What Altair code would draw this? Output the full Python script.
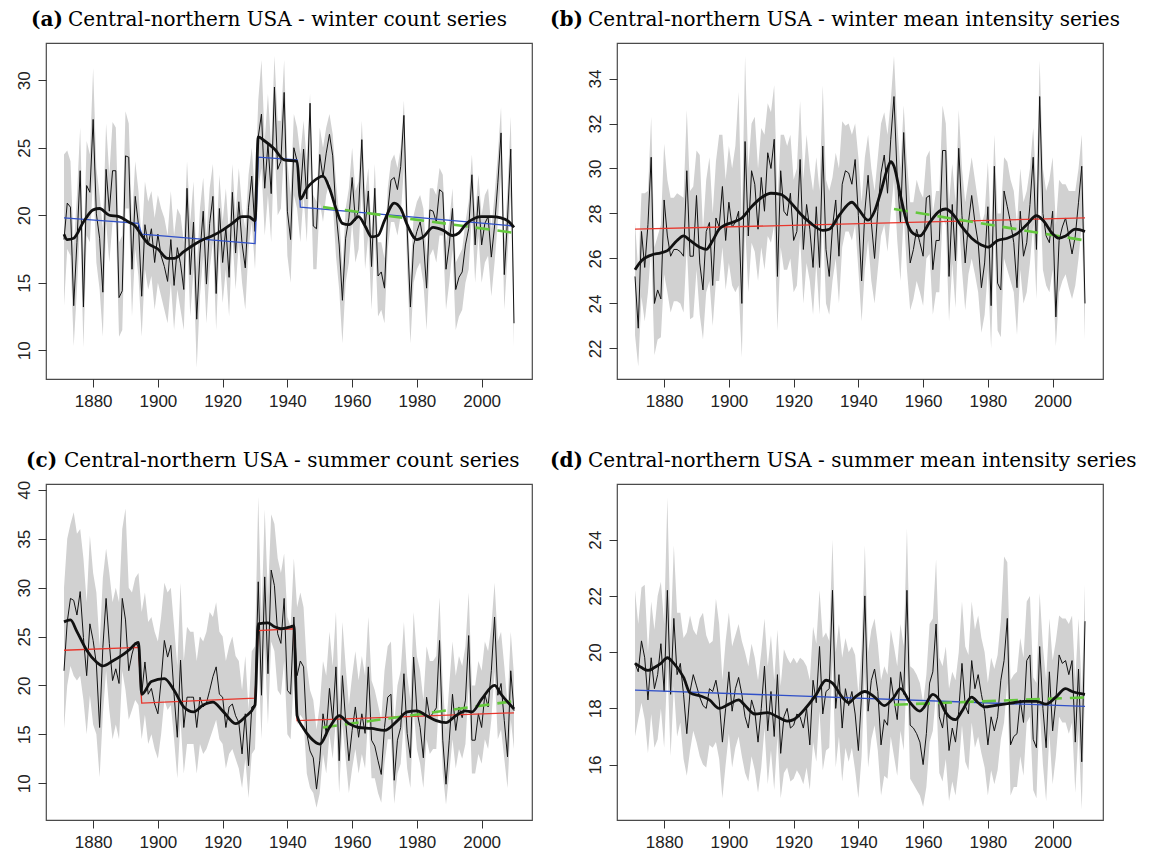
import altair as alt
import pandas as pd

YEARS = list(range(1871, 2011))
X_DOMAIN = [1865.44, 2015.56]
X_TICKS = [1880, 1900, 1920, 1940, 1960, 1980, 2000]

# ---------------- (a) winter count ----------------
a_vals = [
    18.2, 20.9, 20.6, 13.3, 18.0, 23.3, 13.2, 22.2, 21.7, 27.1,
    20.1, 18.3, 14.3, 23.4, 20.3, 23.3, 23.3, 13.9, 14.4, 24.4,
    24.3, 16.0, 21.4, 19.3, 14.0, 19.3, 17.8, 19.0, 16.5, 18.6,
    17.0, 16.2, 15.1, 18.2, 14.8, 17.6, 16.4, 14.5, 22.0, 15.6,
    19.5, 12.3, 17.2, 20.3, 14.9, 19.4, 21.4, 14.2, 20.5, 16.5,
    19.1, 15.4, 21.7, 17.2, 21.0, 17.9, 16.1, 20.6, 22.9, 18.8,
    25.8, 27.5, 22.0, 25.3, 21.6, 29.5, 23.4, 24.0, 29.1, 20.3,
    18.2, 25.0, 24.0, 21.5, 24.9, 21.2, 28.3, 19.2, 19.0, 24.5,
    22.8, 24.6, 26.0, 24.4, 20.3, 17.8, 13.7, 18.3, 19.8, 22.8,
    19.6, 20.4, 25.6, 19.1, 21.8, 16.2, 22.0, 15.5, 15.8, 14.6,
    20.3, 22.6, 22.8, 21.9, 23.6, 27.4, 19.0, 13.2, 17.8, 18.8,
    19.5, 18.1, 14.6, 20.4, 20.3, 19.5, 21.9, 21.7, 16.0, 17.8,
    20.5, 14.5, 15.4, 15.8, 17.8, 19.0, 23.0, 17.8, 21.4, 17.8,
    19.4, 19.9, 16.9, 19.2, 22.4, 26.1, 15.6, 19.7, 24.9, 12.0,
]
a_hi = [
    24.5, 24.8, 24.0, 17.5, 21.5, 26.5, 17.0, 25.5, 24.5, 30.9,
    23.5, 21.5, 19.0, 26.8, 23.0, 26.9, 26.5, 18.0, 18.5, 27.7,
    26.8, 19.5, 24.0, 21.8, 18.0, 22.5, 21.0, 21.8, 19.8, 21.5,
    20.5, 19.8, 18.5, 21.8, 18.5, 20.5, 20.0, 18.0, 24.0, 19.5,
    22.5, 16.0, 20.5, 22.8, 18.5, 22.0, 23.8, 17.8, 23.0, 19.5,
    22.0, 18.5, 23.8, 20.0, 23.5, 20.5, 19.0, 23.0, 25.0, 21.5,
    28.5, 31.5, 25.5, 29.0, 25.0, 31.8, 27.0, 27.0, 31.5, 24.0,
    21.5, 27.5, 26.5, 24.5, 27.0, 24.0, 29.0, 21.5, 21.0, 26.5,
    25.0, 26.5, 27.5, 26.0, 22.5, 20.0, 16.0, 20.5, 22.0, 25.0,
    21.8, 22.5, 27.0, 21.5, 23.5, 18.5, 23.8, 18.0, 18.0, 16.8,
    22.0, 24.0, 24.5, 23.5, 25.0, 28.5, 21.0, 15.5, 20.0, 21.0,
    21.5, 20.5, 17.0, 22.0, 22.0, 21.5, 23.5, 23.0, 18.0, 19.5,
    22.0, 16.5, 17.0, 17.5, 19.5, 21.0, 24.5, 20.0, 23.0, 20.0,
    21.5, 22.0, 19.0, 21.5, 24.5, 28.0, 18.0, 22.0, 27.3, 14.5,
]
a_lo = [
    13.3, 17.5, 17.0, 10.3, 14.5, 19.5, 10.2, 18.5, 18.0, 23.0,
    16.5, 14.5, 11.0, 19.5, 16.5, 19.5, 19.5, 11.0, 11.5, 20.5,
    20.5, 12.5, 17.5, 15.5, 11.0, 16.0, 14.5, 15.5, 13.0, 15.0,
    14.0, 13.0, 12.0, 15.0, 11.5, 14.5, 13.0, 11.5, 18.5, 12.5,
    16.0, 8.7, 14.0, 17.0, 12.0, 16.0, 18.0, 11.5, 17.5, 13.5,
    16.0, 12.5, 18.5, 14.5, 18.0, 15.0, 13.0, 17.5, 19.5, 16.0,
    22.0, 23.5, 18.5, 21.5, 18.0, 25.5, 20.0, 20.5, 25.0, 17.0,
    15.0, 21.5, 20.5, 18.0, 21.5, 18.0, 24.5, 16.0, 16.0, 21.0,
    19.5, 21.5, 22.5, 21.0, 17.0, 14.5, 10.5, 15.0, 16.5, 19.5,
    16.5, 17.5, 22.0, 16.0, 18.5, 13.0, 18.5, 12.5, 13.0, 12.0,
    17.5, 19.5, 19.5, 18.5, 20.0, 23.5, 16.0, 10.5, 15.0, 16.0,
    16.5, 15.0, 11.5, 17.0, 17.5, 16.5, 18.5, 18.5, 13.0, 15.0,
    17.5, 11.5, 12.5, 13.0, 15.0, 16.0, 20.0, 15.0, 18.5, 15.0,
    16.5, 17.0, 14.0, 16.5, 19.5, 23.0, 13.0, 17.0, 21.5, 10.3,
]
a_smooth_years = [1871, 1872, 1874, 1877, 1880, 1882, 1885, 1888, 1891, 1893,
                  1895, 1897, 1900, 1903, 1905, 1908, 1911, 1914, 1917, 1920,
                  1923, 1926, 1928, 1930, 1931, 1933, 1936, 1939, 1943, 1944,
                  1946, 1948, 1951, 1953, 1955, 1957, 1959, 1962, 1964, 1966,
                  1968, 1970, 1973, 1975, 1977, 1980, 1982, 1985, 1988, 1991,
                  1993, 1995, 1998, 2000, 2003, 2006, 2008, 2010]
a_smooth_vals = [18.6, 18.2, 18.3, 19.5, 20.4, 20.5, 20.0, 19.9, 19.5, 19.2,
                 18.5, 17.9, 17.5, 16.8, 16.8, 17.3, 17.8, 18.2, 18.5, 18.9,
                 19.4, 19.9, 19.9, 19.6, 25.8, 25.5, 24.9, 24.1, 24.0, 21.2,
                 22.0, 22.5, 22.9, 22.0, 20.5, 19.4, 19.3, 19.9, 19.2, 18.4,
                 18.5, 19.6, 20.9, 20.5, 19.3, 18.2, 18.4, 19.1, 18.9, 18.5,
                 18.7, 19.3, 19.8, 19.9, 19.9, 19.8, 19.6, 19.1]
a_trend_years = [1871, 1894, 1895, 1930, 1931, 1943, 1944, 2010]
a_trend_vals = [19.8, 19.4, 18.6, 17.9, 24.3, 24.1, 20.6, 19.2]
a_recent_years = [1951, 2010]
a_recent_vals = [20.6, 18.7]

# ---------------- (b) winter mean intensity ----------------
b_vals = [
    25.2, 22.9, 27.2, 25.6, 27.5, 30.5, 24.0, 24.6, 24.2, 28.6,
    27.0, 26.1, 26.4, 26.4, 26.3, 26.1, 29.9, 26.1, 26.1, 28.8,
    25.8, 24.6, 27.2, 27.6, 24.8, 27.8, 27.4, 29.2, 26.8, 28.5,
    27.4, 27.6, 28.1, 24.0, 31.2, 27.0, 29.9, 29.3, 27.3, 29.6,
    28.1, 30.7, 30.0, 31.3, 25.2, 29.9, 28.1, 27.9, 28.9, 26.8,
    27.2, 30.4, 26.4, 28.4, 27.3, 25.6, 28.3, 25.6, 31.0, 26.4,
    25.2, 27.4, 28.6, 26.1, 29.3, 29.9, 29.8, 29.3, 30.4, 27.9,
    25.0, 28.1, 29.7, 27.6, 26.0, 28.1, 29.8, 30.6, 28.9, 31.3,
    33.2, 29.6, 27.6, 31.6, 28.1, 25.8, 26.4, 27.3, 26.7, 26.1,
    28.7, 28.8, 25.5, 26.8, 26.8, 30.8, 30.8, 25.2, 28.4, 25.9,
    30.9, 27.9, 25.8, 27.6, 28.8, 27.6, 26.7, 24.7, 25.8, 28.3,
    23.9, 30.1, 24.9, 24.6, 29.0, 28.3, 27.6, 26.7, 24.7, 28.1,
    26.1, 26.7, 28.4, 30.5, 26.4, 33.2, 28.0, 27.0, 26.7, 28.1,
    23.4, 26.8, 27.4, 27.8, 27.0, 26.2, 27.0, 28.5, 30.1, 24.0,
]
b_hi = [
    27.6, 25.5, 28.9, 28.9, 29.0, 32.3, 26.5, 27.0, 27.5, 31.1,
    29.5, 28.7, 28.7, 28.9, 28.8, 28.7, 32.6, 29.0, 29.2, 30.8,
    30.6, 27.3, 29.5, 30.5, 28.0, 30.3, 31.5, 31.5, 29.5, 31.0,
    30.0, 31.0, 33.4, 27.5, 35.0, 30.0, 32.0, 32.3, 30.0, 31.8,
    31.5, 32.9, 32.5, 33.7, 28.5, 31.5, 31.5, 31.0, 31.5, 29.5,
    30.0, 33.0, 29.5, 31.5, 30.0, 29.0, 30.5, 29.0, 33.7, 29.5,
    29.0, 29.6, 30.7, 30.0, 32.1, 31.9, 32.0, 31.5, 32.0, 30.5,
    28.5, 30.5, 31.5, 30.0, 29.0, 30.5, 32.0, 32.5, 31.5, 33.0,
    35.0, 32.0, 30.0, 32.8, 30.3, 28.5, 28.5, 29.5, 29.0, 28.7,
    30.5, 30.8, 28.0, 29.0, 29.0, 32.8, 32.0, 28.5, 30.2, 28.5,
    32.6, 30.0, 28.5, 29.5, 30.5, 29.5, 28.5, 27.5, 28.0, 30.3,
    27.0, 31.5, 28.0, 28.0, 30.5, 30.3, 29.5, 29.0, 27.5, 30.0,
    28.5, 29.0, 30.0, 31.8, 29.0, 34.8, 30.0, 29.0, 29.5, 30.5,
    27.5, 29.5, 29.3, 29.3, 29.0, 29.0, 29.0, 30.0, 31.5, 26.5,
]
b_lo = [
    22.6, 21.2, 24.3, 23.2, 24.5, 26.5, 21.7, 22.4, 22.5, 25.3,
    24.5, 23.6, 24.1, 24.1, 24.0, 23.6, 26.6, 23.3, 23.4, 25.5,
    23.5, 22.4, 24.5, 25.0, 23.0, 25.0, 25.0, 26.5, 24.6, 25.8,
    24.8, 24.5, 24.8, 21.6, 27.5, 24.5, 26.7, 26.3, 25.0, 26.5,
    25.5, 27.0, 26.7, 27.5, 22.8, 26.5, 25.5, 25.5, 26.0, 24.5,
    24.8, 27.0, 24.0, 25.8, 25.0, 23.5, 25.8, 23.5, 27.8, 24.0,
    23.5, 25.0, 26.0, 24.0, 26.5, 27.2, 27.2, 26.8, 27.5, 25.5,
    23.2, 25.5, 26.8, 25.0, 24.0, 25.5, 27.0, 27.5, 26.3, 28.0,
    29.5, 26.8, 25.0, 28.0, 25.5, 23.7, 24.2, 25.0, 24.5, 23.9,
    26.0, 26.2, 23.5, 24.5, 24.5, 27.8, 27.5, 23.2, 25.8, 23.8,
    27.8, 25.5, 23.7, 25.3, 26.0, 25.3, 24.5, 22.7, 23.5, 25.5,
    22.0, 27.0, 22.8, 22.5, 26.0, 25.5, 25.0, 24.5, 22.6, 25.5,
    24.0, 24.5, 25.8, 27.5, 24.2, 29.8, 25.5, 24.8, 24.5, 25.5,
    22.1, 24.5, 25.0, 25.3, 24.7, 24.2, 24.8, 26.0, 27.5, 22.4,
]
b_smooth_years = [1871, 1873, 1876, 1879, 1881, 1884, 1886, 1888, 1891, 1893,
                  1895, 1897, 1899, 1901, 1904, 1907, 1910, 1913, 1916, 1919,
                  1922, 1925, 1929, 1931, 1934, 1938, 1940, 1943, 1945, 1947,
                  1949, 1950, 1951, 1953, 1955, 1957, 1959, 1962, 1965, 1967,
                  1969, 1972, 1975, 1978, 1980, 1983, 1986, 1989, 1992, 1995,
                  1997, 2000, 2002, 2004, 2007, 2010]
b_smooth_vals = [25.5, 25.9, 26.15, 26.25, 26.35, 26.8, 27.0, 26.8, 26.5, 26.4,
                 26.8, 27.3, 27.5, 27.6, 27.8, 28.3, 28.7, 28.9, 28.85, 28.5,
                 28.0, 27.6, 27.25, 27.3, 27.9, 28.5, 28.2, 27.7, 28.1, 29.0,
                 30.0, 30.3, 30.1, 28.8, 27.6, 27.1, 27.0, 27.6, 28.1, 28.2,
                 28.0, 27.4, 26.9, 26.6, 26.5, 26.8, 26.9, 27.1, 27.5, 27.9,
                 27.7, 27.1, 26.9, 27.0, 27.3, 27.2]
b_trend_years = [1871, 2010]
b_trend_vals = [27.3, 27.8]
b_recent_years = [1951, 2010]
b_recent_vals = [28.2, 26.8]

# ---------------- (c) summer count ----------------
c_vals = [
    21.5, 26.5, 28.9, 28.7, 27.2, 29.6, 24.9, 21.0, 26.3, 24.6,
    22.2, 15.7, 23.9, 28.9, 24.3, 20.5, 21.7, 20.2, 28.9, 26.7,
    21.5, 23.2, 24.4, 23.9, 19.1, 22.4, 19.1, 19.7, 18.1, 17.1,
    20.5, 24.6, 22.9, 24.1, 19.1, 14.7, 22.6, 15.7, 18.8, 18.8,
    18.8, 15.7, 18.8, 17.8, 18.2, 19.5, 20.9, 21.9, 19.1, 18.8,
    15.7, 17.8, 18.1, 16.9, 16.2, 13.0, 17.1, 11.8, 17.8, 18.0,
    30.6, 19.0, 31.1, 21.2, 31.8, 30.2, 25.3, 24.3, 28.9, 19.5,
    19.1, 27.0, 21.0, 22.5, 21.9, 15.1, 13.3, 12.6, 9.4, 12.3,
    17.1, 15.1, 19.7, 16.4, 21.9, 12.3, 21.0, 16.4, 12.3, 15.4,
    17.8, 14.7, 17.1, 15.1, 21.9, 14.4, 13.8, 12.3, 10.9, 15.7,
    18.8, 19.1, 10.3, 14.4, 15.7, 21.2, 15.1, 12.6, 22.9, 17.4,
    15.7, 12.6, 18.8, 16.7, 17.2, 17.7, 24.6, 14.4, 9.9, 14.4,
    19.1, 15.4, 17.8, 16.7, 18.5, 25.1, 14.4, 14.4, 17.1, 15.7,
    19.1, 17.8, 21.5, 27.0, 19.0, 20.2, 16.4, 12.7, 21.5, 17.4,
]
c_hi = [
    30.0, 35.0, 36.5, 37.7, 35.5, 36.0, 33.0, 28.5, 35.3, 31.5,
    29.5, 24.0, 31.0, 34.0, 31.5, 28.5, 30.0, 28.5, 36.0, 38.1,
    30.0, 29.5, 31.0, 31.5, 27.5, 29.5, 26.5, 27.0, 25.5, 24.5,
    27.0, 30.5, 29.5, 30.0, 26.0, 22.0, 30.5, 22.5, 26.0, 25.5,
    25.5, 22.5, 25.0, 24.5, 25.5, 27.5, 27.0, 28.5, 25.5, 25.0,
    22.5, 24.0, 25.0, 23.0, 22.5, 19.5, 23.0, 17.5, 23.5, 24.0,
    39.3, 27.0, 38.0, 29.0, 37.5, 36.5, 33.0, 31.5, 33.5, 27.0,
    26.0, 33.0, 28.0, 29.5, 28.0, 22.0, 19.5, 18.5, 15.5, 18.0,
    22.5, 21.0, 25.5, 22.0, 27.5, 18.0, 26.5, 22.0, 18.0, 21.0,
    23.5, 20.5, 23.0, 21.0, 27.0, 20.5, 19.5, 18.0, 16.5, 21.5,
    24.0, 24.5, 16.0, 20.0, 21.5, 26.5, 21.0, 18.5, 27.5, 23.0,
    21.5, 18.5, 24.0, 22.5, 22.5, 23.0, 29.0, 20.0, 15.5, 20.0,
    24.5, 21.0, 23.0, 22.0, 24.0, 29.5, 20.0, 20.0, 22.5, 21.5,
    24.5, 23.5, 26.0, 30.5, 24.5, 25.5, 22.0, 18.0, 25.5, 21.0,
]
c_lo = [
    15.6, 20.0, 22.0, 21.0, 20.5, 21.0, 18.5, 15.0, 19.0, 16.0,
    15.0, 10.6, 17.0, 21.5, 17.5, 14.5, 16.0, 14.5, 21.5, 19.5,
    16.5, 17.5, 18.5, 18.0, 14.5, 17.0, 14.0, 15.0, 13.5, 12.5,
    15.0, 18.5, 17.5, 18.0, 14.5, 10.5, 16.5, 11.0, 14.0, 14.0,
    14.0, 11.0, 14.0, 13.0, 13.5, 14.5, 15.5, 16.5, 14.5, 14.0,
    11.5, 13.0, 13.5, 12.5, 11.5, 9.5, 12.5, 8.5, 13.0, 13.5,
    23.5, 14.5, 24.0, 16.0, 24.5, 23.5, 19.5, 19.0, 22.5, 15.0,
    14.5, 21.0, 16.0, 17.0, 16.5, 11.0, 9.5, 9.0, 7.5, 9.0,
    13.0, 11.0, 15.0, 12.5, 16.5, 9.0, 16.0, 12.5, 9.0, 11.5,
    13.5, 11.0, 13.0, 11.5, 17.0, 10.5, 10.5, 9.0, 8.0, 12.0,
    14.5, 14.5, 7.9, 11.0, 12.0, 16.5, 11.5, 9.5, 17.5, 13.5,
    12.0, 9.5, 14.5, 13.0, 13.5, 13.5, 19.5, 11.0, 7.8, 11.0,
    14.5, 11.5, 13.5, 12.5, 14.0, 20.0, 11.0, 11.0, 13.0, 12.0,
    14.5, 13.5, 16.5, 21.5, 14.5, 15.5, 12.5, 9.5, 16.5, 13.5,
]
c_smooth_years = [1871, 1873, 1875, 1878, 1881, 1883, 1886, 1889, 1891, 1894,
                  1895, 1898, 1902, 1905, 1908, 1911, 1914, 1917, 1920, 1924,
                  1927, 1930, 1931, 1934, 1936, 1938, 1941, 1942, 1943, 1945,
                  1947, 1950, 1953, 1956, 1959, 1962, 1966, 1970, 1974, 1977,
                  1980, 1983, 1986, 1989, 1992, 1995, 1997, 2000, 2004, 2006,
                  2010]
c_smooth_vals = [26.5, 26.7, 25.5, 23.6, 22.4, 22.0, 22.5, 23.1, 23.6, 24.4,
                 19.1, 20.4, 20.7, 19.5, 17.8, 17.3, 18.0, 18.3, 17.4, 16.1,
                 16.8, 18.0, 26.3, 26.4, 26.0, 25.8, 26.0, 26.1, 16.9, 15.6,
                 14.7, 14.0, 15.7, 16.9, 16.1, 15.7, 15.6, 15.4, 16.4, 17.3,
                 17.4, 16.9, 16.4, 16.2, 16.9, 17.4, 17.3, 18.6, 20.0, 19.1,
                 17.6]
c_trend_years = [1871, 1894, 1895, 1930, 1931, 1942, 1943, 2010]
c_trend_vals = [23.6, 23.9, 18.2, 18.7, 25.6, 25.8, 16.4, 17.2]
c_recent_years = [1951, 2010]
c_recent_vals = [15.7, 18.4]

# ---------------- (d) summer mean intensity ----------------
d_vals = [
    19.6, 19.3, 20.4, 19.8, 18.3, 19.8, 18.7, 19.2, 20.3, 18.6,
    22.2, 18.5, 21.2, 19.2, 19.6, 18.5, 17.1, 18.6, 19.2, 18.8,
    18.4, 18.1, 18.0, 18.7, 18.6, 19.0, 18.3, 16.8, 18.0, 19.3,
    17.9, 18.7, 19.1, 18.5, 17.7, 17.3, 18.3, 17.9, 16.8, 18.0,
    19.5, 17.2, 18.6, 17.0, 19.2, 16.4, 17.7, 18.0, 17.3, 17.4,
    17.8, 17.7, 17.3, 18.0, 16.7, 19.0, 18.2, 20.2, 17.8, 18.6,
    18.7, 22.2, 18.0, 19.2, 17.3, 18.7, 18.1, 18.6, 17.8, 16.5,
    18.5, 22.0, 17.9, 19.0, 19.4, 18.6, 16.7, 17.6, 17.4, 19.1,
    18.3, 17.6, 19.3, 18.5, 22.2, 17.4, 17.3, 17.1, 16.8, 16.0,
    17.1, 18.9, 19.3, 21.0, 17.7, 17.3, 18.2, 16.5, 17.3, 16.8,
    17.9, 19.6, 18.1, 17.8, 19.7, 18.7, 19.2, 18.5, 17.9, 16.7,
    17.7, 17.2, 17.7, 19.0, 19.7, 21.2, 16.7, 17.0, 17.1, 18.3,
    17.5, 19.7, 19.9, 16.9, 16.6, 20.2, 18.0, 16.6, 19.3, 17.2,
    18.3, 19.9, 19.6, 19.7, 19.2, 19.7, 16.8, 19.4, 16.1, 21.1,
]
d_hi = [
    22.2, 21.0, 22.3, 22.4, 20.0, 21.8, 20.8, 22.0, 22.5, 21.0,
    25.5, 20.5, 23.8, 21.4, 21.4, 20.5, 20.7, 21.3, 20.8, 20.6,
    21.2, 21.4, 20.6, 20.3, 20.4, 21.9, 21.0, 19.0, 20.4, 21.4,
    20.2, 20.6, 21.0, 20.4, 20.0, 19.5, 20.3, 19.8, 19.0, 20.0,
    21.2, 19.5, 20.6, 19.0, 20.8, 18.8, 20.1, 19.8, 19.6, 19.8,
    19.6, 19.8, 19.7, 19.5, 19.0, 20.9, 20.3, 22.2, 20.5, 20.7,
    20.4, 24.0, 20.0, 21.0, 19.8, 20.5, 20.0, 20.2, 19.9, 18.5,
    20.2, 23.8, 20.0, 20.8, 21.2, 20.3, 19.0, 19.5, 19.2, 20.8,
    20.2, 19.5, 21.0, 20.2, 24.4, 19.5, 19.4, 19.2, 18.9, 18.2,
    19.2, 21.0, 21.2, 23.3, 19.8, 19.5, 20.2, 18.7, 19.3, 19.0,
    20.0, 21.8, 20.2, 19.9, 21.8, 20.8, 21.3, 20.5, 20.0, 18.9,
    19.8, 19.4, 19.9, 21.1, 23.4, 23.2, 19.0, 19.2, 19.3, 20.5,
    19.8, 21.8, 22.0, 19.1, 18.9, 22.1, 20.2, 19.0, 21.2, 19.7,
    20.4, 21.3, 21.2, 21.2, 21.0, 21.3, 19.0, 21.2, 18.6, 22.4,
]
d_lo = [
    17.0, 17.6, 18.2, 17.6, 16.4, 17.8, 16.6, 16.9, 18.0, 16.6,
    19.5, 16.3, 18.8, 17.0, 17.5, 16.2, 15.6, 16.5, 17.2, 16.8,
    16.3, 16.0, 15.9, 16.7, 16.6, 16.8, 16.2, 14.8, 16.0, 17.1,
    15.9, 16.6, 17.0, 16.3, 15.7, 15.4, 16.3, 15.8, 15.0, 15.9,
    17.3, 15.3, 16.5, 15.1, 17.0, 14.8, 15.7, 15.9, 15.4, 15.5,
    15.8, 15.6, 15.3, 15.9, 15.1, 16.8, 16.1, 17.9, 15.8, 16.5,
    16.6, 19.7, 15.9, 17.0, 15.4, 16.6, 16.1, 16.6, 15.8, 14.8,
    16.3, 19.3, 15.9, 16.9, 17.4, 16.5, 14.9, 15.6, 15.5, 17.0,
    16.3, 15.6, 17.2, 16.5, 19.5, 15.5, 15.3, 15.1, 14.9, 14.5,
    15.2, 16.8, 17.2, 18.6, 15.7, 15.4, 16.2, 14.7, 15.4, 14.9,
    15.9, 17.4, 16.1, 15.8, 17.5, 16.6, 17.0, 16.4, 15.9, 14.9,
    15.8, 15.3, 15.8, 16.9, 17.5, 18.9, 14.9, 15.2, 15.2, 16.3,
    15.6, 17.5, 17.7, 15.1, 14.8, 18.0, 16.0, 14.7, 17.1, 15.3,
    16.3, 17.7, 17.5, 17.5, 17.1, 17.5, 15.0, 17.2, 14.4, 18.8,
]
d_smooth_years = [1871, 1873, 1875, 1877, 1879, 1881, 1883, 1886, 1888, 1891,
                  1894, 1897, 1900, 1903, 1905, 1908, 1912, 1915, 1918, 1920,
                  1924, 1927, 1930, 1932, 1935, 1937, 1939, 1942, 1945, 1948,
                  1951, 1953, 1956, 1959, 1960, 1963, 1965, 1967, 1970, 1972,
                  1975, 1977, 1979, 1982, 1985, 1988, 1991, 1995, 1998, 2001,
                  2004, 2006, 2010]
d_smooth_vals = [19.6, 19.45, 19.35, 19.45, 19.6, 19.8, 19.6, 19.1, 18.55, 18.45,
                 18.3, 18.0, 18.15, 18.3, 18.1, 17.8, 17.85, 17.7, 17.55, 17.6,
                 18.05, 18.5, 19.0, 18.9, 18.4, 18.2, 18.4, 18.6, 18.4, 18.1,
                 18.4, 18.7, 18.2, 17.9, 18.0, 18.5, 18.3, 17.85, 17.6, 17.9,
                 18.4, 18.2, 18.05, 18.1, 18.15, 18.2, 18.25, 18.25, 18.15, 18.4,
                 18.7, 18.6, 18.5]
d_trend_years = [1871, 2010]
d_trend_vals = [18.65, 18.07]
d_recent_years = [1951, 2010]
d_recent_vals = [18.13, 18.39]

for series in (a_vals, a_hi, a_lo, b_vals, b_hi, b_lo,
               c_vals, c_hi, c_lo, d_vals, d_hi, d_lo):
    assert len(series) == len(YEARS)

BLUE = "#3050c8"
RED = "#e8362c"
GREEN = "#64c83c"
BAND = "#d1d1d1"
INK = "#111111"
W, H = 486, 336


def panel(letter, caption, vals, hi, lo, sm_years, sm_vals, tr_years, tr_vals,
          tr_color, rc_years, rc_vals, ydom, yticks, letter_dx, caption_dx):
    xs = alt.Scale(domain=X_DOMAIN, nice=False, zero=False)
    ys = alt.Scale(domain=ydom, nice=False, zero=False)
    xax = alt.Axis(values=X_TICKS, format="d", title=None)
    yax = alt.Axis(values=yticks, title=None)

    def X(field):
        return alt.X(f"{field}:Q", scale=xs, axis=xax)

    def Y(field):
        return alt.Y(f"{field}:Q", scale=ys, axis=yax)

    annual = pd.DataFrame({"year": YEARS, "value": vals, "hi": hi, "lo": lo})
    smooth = pd.DataFrame({"year": sm_years, "value": sm_vals})
    trend = pd.DataFrame({"year": tr_years, "value": tr_vals})
    recent = pd.DataFrame({"year": rc_years, "value": rc_vals})

    band = alt.Chart(annual).mark_area(color=BAND, opacity=1).encode(
        x=X("year"), y=Y("lo"), y2="hi:Q")
    thin = alt.Chart(annual).mark_line(color=INK, strokeWidth=1).encode(
        x=X("year"), y=Y("value"))
    trend_line = alt.Chart(trend).mark_line(color=tr_color, strokeWidth=1.3).encode(
        x=X("year"), y=Y("value"))
    recent_line = alt.Chart(recent).mark_line(
        color=GREEN, strokeWidth=2.6, strokeDash=[14, 8]).encode(
        x=X("year"), y=Y("value"))
    smooth_line = alt.Chart(smooth).mark_line(
        color=INK, strokeWidth=2.8, interpolate="monotone").encode(
        x=X("year"), y=Y("value"))

    tag = alt.Chart(pd.DataFrame({"t": [letter]})).mark_text(
        align="left", baseline="alphabetic", font="DejaVu Serif",
        fontSize=20, fontWeight="bold", color="black").encode(
        text="t:N", x=alt.value(letter_dx), y=alt.value(-17))
    head = alt.Chart(pd.DataFrame({"t": [caption]})).mark_text(
        align="left", baseline="alphabetic", font="DejaVu Serif",
        fontSize=20, color="black").encode(
        text="t:N", x=alt.value(caption_dx), y=alt.value(-17))

    return alt.layer(band, thin, trend_line, recent_line, smooth_line, tag, head).properties(
        width=W, height=H)


p_a = panel("(a)", "Central-northern USA - winter count series",
            a_vals, a_hi, a_lo, a_smooth_years, a_smooth_vals,
            a_trend_years, a_trend_vals, BLUE, a_recent_years, a_recent_vals,
            [7.87, 32.76], [10, 15, 20, 25, 30], -15, 22)
p_b = panel("(b)", "Central-northern USA - winter mean intensity series",
            b_vals, b_hi, b_lo, b_smooth_years, b_smooth_vals,
            b_trend_years, b_trend_vals, RED, b_recent_years, b_recent_vals,
            [20.64, 35.58], [22, 24, 26, 28, 30, 32, 34], -67, -29)
p_c = panel("(c)", "Central-northern USA - summer count series",
            c_vals, c_hi, c_lo, c_smooth_years, c_smooth_vals,
            c_trend_years, c_trend_vals, RED, c_recent_years, c_recent_vals,
            [6.24, 40.6], [10, 15, 20, 25, 30, 35, 40], -20, 18)
p_d = panel("(d)", "Central-northern USA - summer mean intensity series",
            d_vals, d_hi, d_lo, d_smooth_years, d_smooth_vals,
            d_trend_years, d_trend_vals, BLUE, d_recent_years, d_recent_vals,
            [14.03, 25.98], [16, 18, 20, 22, 24], -67, -29)

chart = alt.concat(
    p_a, p_b, p_c, p_d, columns=2,
    spacing={"row": 105, "column": 85}, bounds="flush",
).properties(
    padding={"left": 14, "top": 9, "right": 2, "bottom": 0},
).configure(
    background="white",
).configure_view(
    stroke="#4a4a4a", strokeWidth=1.2,
).configure_axis(
    domain=False, grid=False, ticks=True, tickSize=8, tickColor="#333333",
    tickWidth=1, labelFont="Liberation Sans", labelFontSize=17,
    labelColor="#222222",
).configure_axisX(
    labelPadding=6,
).configure_axisY(
    labelAngle=270, labelAlign="center", labelBaseline="bottom", labelPadding=5,
)

chart.save("out.html", embed_options={"renderer": "svg", "actions": False})
